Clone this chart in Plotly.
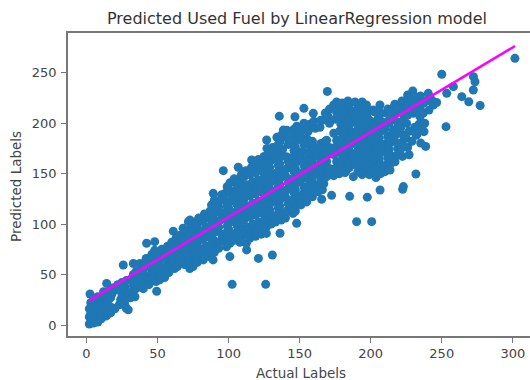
import plotly.graph_objects as go

# Actual fuel values (x), grouped in vertical strips
actual_labels = [
    2, 3, 2, 4, 3, 2, 4, 3, 2.5, 4,
    5, 6, 5, 7, 6, 5, 7, 6, 5,
    8, 9, 10, 8, 9, 10, 9, 8,
    11, 12, 13, 11, 12, 13, 12,
    14, 15, 16, 14, 15, 16, 14.2,
    17, 18, 17, 18, 19,
    20, 21, 22,
    23, 24, 25, 23, 24.8, 25.9,
    27, 28, 29.4, 28, 29, 27, 28,
    31, 32, 33, 31, 33, 33,
    34.1, 35, 36, 34, 35,
    37.6, 38, 39, 37, 38,
    40, 41, 42, 40, 41, 42, 42.3,
    44, 45, 46, 44, 45, 46,
    48, 49.4, 49, 47, 48, 49, 47, 48,
    51.6, 52, 53, 51, 52, 53,
    55, 56, 57, 55, 56, 57,
    58, 59, 60, 58, 59, 60,
    61.1, 61.1, 62, 63, 61, 62, 63,
    64, 65, 66, 64, 65, 66,
    68.1, 69, 70, 68, 69, 70, 68,
    72.7, 71.7, 72.8, 72, 73, 71, 72, 73, 71,
    75, 76, 77, 75, 76, 77, 75, 76,
    78, 79, 80, 78, 79, 80, 78, 79,
    82.2, 83, 84, 82, 83, 84, 82, 83,
    86.7, 87, 88, 86, 87, 88, 86, 87, 88,
    89.1, 89.2, 90, 91, 89, 90, 91, 89, 90, 91, 90,
    93, 94, 95, 93, 94, 95, 93, 94, 95, 96.3,
    98.5, 97, 98, 99, 97, 98, 99, 97, 98, 99,
    100.9, 102.5, 101, 102, 100, 101, 102, 100, 101, 102, 100, 101,
    104, 105, 106, 104, 105, 106, 104, 105, 106, 104, 106.8,
    108, 109, 110, 108, 109, 110, 108, 109, 110, 108, 109,
    112.5, 112.7, 111, 112, 113, 111, 112, 113, 111, 112, 113, 112,
    116.2, 115, 116, 117, 115, 116, 117, 115, 116, 117, 115, 116,
    121, 119, 120, 121, 119, 120, 121, 119, 120, 121, 119, 120, 121,
    126.1, 123, 124, 125, 123, 124, 125, 123, 124, 125, 123, 124, 125,
    126.6, 126.8, 127, 128, 126, 127, 128, 126, 127, 128, 126, 127, 128, 127,
    130.8, 129.1, 130, 131, 129, 130, 131, 129, 130, 131, 129, 130, 131,
    133, 134, 135, 133, 134, 135, 133, 134, 135, 133, 134, 135, 134, 135.7,
    136.2, 137, 138, 136, 137, 138, 136, 137, 138, 136, 137, 138, 136, 137, 138.5,
    140, 141, 142, 140, 141, 142, 140, 141, 142, 140.8, 142, 140, 141,
    145.3, 144, 145, 146, 144, 145, 146, 144, 145, 146, 144, 145, 146, 146.7,
    147.9, 147, 148, 149, 147, 148, 149, 147, 148, 149, 147, 148, 149, 148,
    152.6, 153, 151, 152, 153, 151, 152, 153, 151, 152, 153, 151, 152, 153,
    156.8, 155, 156, 157, 155, 156, 157, 155, 156, 157, 155, 156, 157,
    159.6, 159, 160, 161, 159, 160, 161, 159, 160, 161, 159, 161, 160,
    165.5, 163, 164, 165, 163, 164, 165, 163, 164, 165, 164.3, 165,
    166.7, 166, 167, 168, 166, 167, 168, 166, 167, 168, 168,
    169.5, 172.5, 170, 171, 169, 170, 171, 169, 171, 170, 171,
    174, 175, 176, 174, 175, 176, 174, 175, 176, 174, 176,
    178, 179, 180, 178, 179, 180, 178, 179, 180, 178, 180,
    183, 182, 184, 182, 183, 184, 182, 183, 184, 182, 183, 184,
    185.2, 187.8, 185, 186, 187, 185, 186, 187, 185, 186, 187, 185,
    190.1, 191, 189, 190, 191, 189, 190, 191, 189, 190, 191, 189,
    194, 195, 193, 194, 195, 193, 194, 195, 193, 194, 195, 194,
    197.6, 199, 197, 198, 199, 197, 198, 199, 197, 198, 199, 197,
    200.7, 202, 200, 201, 202, 200, 201, 202, 200, 201.8,
    203.7, 204, 205, 203, 204, 205, 203, 204, 205, 203,
    206.6, 206.5, 206.5, 207, 208, 206, 207, 208, 206, 207, 208, 207,
    211.2, 210, 211, 212, 210, 211, 212, 210, 211, 212,
    213.6, 215.9, 214, 215, 213, 214, 215, 213, 214, 215,
    217.1, 217, 218, 219, 217, 218, 219, 217, 218,
    222.5, 223, 222.3, 221, 222, 223, 221, 222, 223, 221, 222,
    227, 225.3, 226, 225, 227, 226, 225, 227, 226,
    229.6, 231.8, 230, 229, 231, 230, 229, 231,
    234.7, 235.2, 233, 234, 235, 233, 235, 232,
    238.7, 237.5, 237, 240.5, 238, 237, 239, 236,
    243, 244.1, 246.4, 250, 253, 253.5, 258.2, 264.1, 269, 272.3, 273.4, 272.2, 277, 301.5, 241, 234.7,
]

# Predicted fuel values (y), same order as actual_labels
predicted_labels = [
    1, 4, 8, 3, 12, 16, 19, 22, 30.7, 9,
    2, 6, 11, 4, 15, 19, 13, 23, 26,
    3, 8, 12, 17, 21, 6, 25, 28,
    7, 11, 16, 20, 24, 29, 33,
    9, 14, 19, 24, 29, 34, 41.2,
    12, 17, 27, 31, 37,
    16, 35, 40,
    20, 25, 30, 36, 42, 59.5,
    20, 16.6, 15, 26, 32, 38, 44,
    27, 33, 39, 45, 50, 61,
    28, 36, 42, 48, 53,
    61, 38, 44, 50, 56,
    36, 42, 48, 54, 60, 66, 81,
    40, 46, 52, 58, 64, 70,
    82.6, 33.5, 43, 50, 56, 62, 68, 74,
    44.8, 51, 57, 63, 69, 75,
    47, 54, 60, 66, 72, 78,
    52, 58, 64, 70, 76, 82,
    74.4, 93, 56, 63, 68, 80, 86,
    58, 65, 71, 77, 83, 89,
    74, 60, 66, 80, 86, 92, 96,
    56, 102.4, 104, 64, 70, 76, 82, 88, 94,
    58, 65, 71, 77, 84, 90, 96, 102,
    62, 68, 75, 81, 87, 93, 99, 106,
    64.5, 71, 78, 85, 91, 97, 103, 110,
    67.7, 74, 80, 87, 94, 100, 106, 113, 119,
    64.5, 130.5, 72, 78, 85, 92, 98, 105, 111, 118, 124,
    76, 83, 90, 97, 104, 110, 117, 123, 129, 153,
    77.6, 84, 91, 98, 105, 112, 118, 124, 131, 137,
    67.8, 40.3, 81, 88, 95, 102, 109, 116, 122, 129, 135, 141,
    84, 91, 98, 105, 112, 119, 126, 133, 139, 145, 156.3,
    82, 88, 95, 102, 109, 116, 123, 130, 137, 143, 149,
    80.9, 74.4, 147, 90, 97, 104, 111, 118, 125, 132, 139, 153,
    163.5, 86, 93, 100, 107, 114, 121, 128, 135, 142, 149, 156,
    66, 88, 95, 102, 109, 116, 123, 130, 137, 144, 151, 158, 164,
    40.3, 90, 97, 104, 111, 118, 125, 132, 139, 146, 153, 160, 167,
    90.8, 183.3, 98, 105, 112, 119, 126, 133, 140, 147, 154, 161, 168, 175,
    69.4, 170.2, 100, 107, 114, 121, 128, 135, 142, 149, 156, 163, 176,
    102, 109, 116, 123, 130, 137, 144, 151, 158, 165, 172, 179, 186, 207,
    90.9, 104, 111, 118, 125, 132, 139, 146, 153, 160, 167, 174, 181, 188, 193.2,
    106, 113, 120, 127, 134, 141, 148, 155, 162, 166.8, 179, 186, 193,
    110.6, 117, 124, 131, 138, 145, 152, 159, 166, 173, 180, 187, 194, 206.4,
    100.8, 113, 120, 127, 134, 141, 148, 155, 162, 169, 176, 183, 190, 197,
    130.5, 214.7, 119, 125, 137, 144, 151, 158, 165, 172, 179, 186, 193, 200,
    128.8, 122, 134, 140, 146, 152, 158, 164, 171, 178, 185, 192, 199,
    209.8, 127, 133, 139, 146, 152, 158, 164, 170, 176, 182, 195, 202,
    124.6, 132, 138, 144, 150, 156, 162, 168, 174, 180, 196, 203,
    203.2, 134, 140, 146, 152, 158, 164, 170, 176, 182, 210,
    231.5, 128.5, 148, 155, 162, 169, 176, 183, 200, 207, 214,
    148, 155, 162, 169, 176, 183, 190, 204, 211, 218, 221,
    150, 157, 164, 171, 178, 185, 192, 199, 206, 213, 220,
    153.6, 151, 160, 167, 174, 181, 188, 195, 202, 209, 216, 222,
    127.5, 147, 156, 163, 170, 177, 184, 191, 198, 205, 212, 219,
    102.4, 152, 159, 166, 173, 180, 187, 194, 201, 208, 215, 221,
    149, 152, 159, 166, 173, 180, 187, 194, 201, 208, 215, 221,
    126.7, 149, 156, 163, 170, 177, 184, 191, 198, 205, 212, 218,
    102.4, 153, 160, 167, 174, 181, 188, 195, 202, 213.1,
    146.1, 155, 162, 169, 176, 183, 190, 197, 204, 211,
    133.8, 203.2, 218, 150, 157, 164, 171, 178, 185, 192, 199, 210,
    209.8, 152, 159, 166, 173, 180, 187, 194, 201, 214,
    153.6, 193.2, 160, 167, 174, 181, 188, 200, 207, 214,
    161.8, 218.9, 168, 175, 182, 189, 196, 203, 210,
    134.5, 137.2, 167.1, 174, 181, 188, 195, 202, 209, 216, 222,
    168.7, 199.8, 176, 185, 192, 208, 215, 222, 228,
    231.9, 149.7, 209.8, 182, 196, 215, 221, 226,
    206.5, 180.3, 190, 199, 213, 220, 227, 188,
    177, 191.6, 219.6, 229.6, 200, 210, 222, 196,
    223, 218, 220.5, 248.5, 196.6, 229.6, 236.2, 226.3, 221.3, 246.1, 241.1, 232.9, 217.5, 264.3, 213, 193.3,
]

# Regression line end points
fit_x = [1.8, 301.6]
fit_y = [24.1, 276.5]

x_ticks = [0, 50, 100, 150, 200, 250, 300]
y_ticks = [0, 50, 100, 150, 200, 250]

fig = go.Figure()
fig.add_trace(go.Scatter(
    x=actual_labels, y=predicted_labels, mode="markers",
    marker=dict(color="#1f77b4", size=9, line=dict(width=0)),
    showlegend=False, hoverinfo="skip",
))
fig.add_trace(go.Scatter(
    x=fit_x, y=fit_y, mode="lines",
    line=dict(color="#ff00ff", width=2.5),
    showlegend=False, hoverinfo="skip",
))

fig.update_layout(
    width=530, height=380,
    margin=dict(l=68, r=0, t=33, b=44, autoexpand=False),
    plot_bgcolor="white", paper_bgcolor="white",
    font=dict(family="DejaVu Sans", color="#444", size=13),
    title=dict(
        text="Predicted Used Fuel by LinearRegression model",
        x=297 / 530, xref="container", xanchor="center",
        y=1 - 18 / 380, yref="container", yanchor="middle",
        font=dict(size=16, color="#333", family="DejaVu Sans"),
    ),
    annotations=[
        dict(text="Actual Labels", xref="paper", yref="paper",
             x=(301 - 68) / 462, y=(336 - 373) / 303,
             xanchor="center", yanchor="middle", showarrow=False,
             font=dict(size=13.5, color="#444", family="DejaVu Sans")),
        dict(text="Predicted Labels", xref="paper", yref="paper",
             x=(16 - 68) / 462, y=(336 - 187) / 303, textangle=-90,
             xanchor="center", yanchor="middle", showarrow=False,
             font=dict(size=13.5, color="#444", family="DejaVu Sans")),
    ],
)
fig.update_xaxes(
    range=[-13.0, 312.1], tickvals=x_ticks, ticks="outside", ticklen=5,
    tickcolor="#777", tickwidth=1, showline=True, linecolor="#777",
    linewidth=1.5, mirror=True, showgrid=False, zeroline=False,
    automargin=False,
)
fig.update_yaxes(
    range=[-10.9, 289.4], tickvals=y_ticks, ticks="outside", ticklen=5,
    tickcolor="#777", tickwidth=1, showline=True, linecolor="#777",
    linewidth=1.5, mirror=False, showgrid=False, zeroline=False,
    automargin=False, ticklabelstandoff=2,
)

fig.write_html(
    "out.html",
    config={"displayModeBar": False},
    post_script="document.body.style.margin='0px';document.body.style.overflow='hidden';",
)
